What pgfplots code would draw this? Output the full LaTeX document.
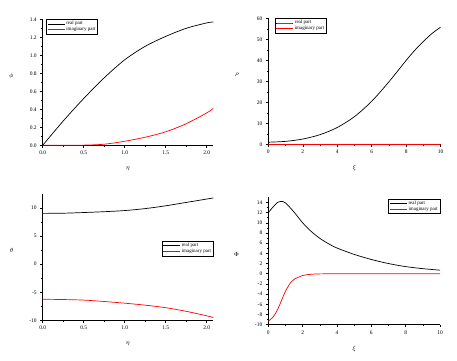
\documentclass[border=0pt]{standalone}
\usepackage{pgfplots}
\pgfplotsset{compat=1.18}
\usepackage{fontspec}
\setmainfont{Liberation Serif}
\pgfplotsset{
  myax/.style={
    scale only axis, anchor=south west,
    axis x line*=bottom, axis y line*=left,
    tick align=outside, minor tick num=1,
    axis line style={line width=0.8pt},
    every tick/.style={black, line width=0.5pt},
    major tick length=2.5pt, minor tick length=1.5pt,
    tick label style={font=\fontsize{5.5}{6}\selectfont},
    label style={font=\fontsize{6}{7}\selectfont},
    /pgf/number format/assume math mode=true,
    ylabel style={rotate=-90},
    legend style={font=\fontsize{5}{6}\selectfont, draw=black, line width=0.4pt, inner sep=1pt, row sep=-1pt,
      nodes={inner sep=1pt}},
    legend cell align=left,
    legend image post style={line width=0.9pt},
    every axis plot/.append style={line width=0.7pt, no marks, smooth},
  },
}
\begin{document}
\begin{tikzpicture}
\path (0,0) rectangle (457pt,360pt);
% Panel 1
\begin{axis}[myax, at={(42.7pt,214.7pt)}, width=170.6pt, height=126pt,
  xmin=0, xmax=2.08, ymin=0, ymax=1.4,
  xtick={0,0.5,1,1.5,2}, ytick={0,0.2,...,1.4},
  xticklabels={0.0,0.5,1.0,1.5,2.0},
  yticklabels={0.0,0.2,0.4,0.6,0.8,1.0,1.2,1.4},
  xlabel={$\eta$}, ylabel={$\phi$},
  ylabel style={at={(axis description cs:-0.15,0.55)}},
  xlabel style={at={(axis description cs:0.5,-0.14)}},
  legend style={at={(0.02,1)}, anchor=north west}]
\addplot[black] coordinates {(0,0) (0.25,0.27) (0.5,0.52) (0.75,0.75) (1.0,0.95) (1.25,1.10) (1.5,1.21) (1.75,1.30) (2.0,1.36) (2.08,1.37)};
\addlegendentry{real part}
\addplot[red] coordinates {(0,0) (0.25,0.0) (0.5,0.002) (0.75,0.012) (1.0,0.045) (1.25,0.09) (1.5,0.15) (1.75,0.24) (2.0,0.36) (2.08,0.41)};
\addlegendentry{imaginary part}
\end{axis}
% Panel 2
\begin{axis}[myax, at={(268.3pt,215.7pt)}, width=172.4pt, height=126pt,
  xmin=0, xmax=10, ymin=0, ymax=60,
  xtick={0,2,...,10}, ytick={0,10,...,60},
  xlabel={$\xi$}, ylabel={$\rho$},
  ylabel style={at={(axis description cs:-0.15,0.55)}},
  xlabel style={at={(axis description cs:0.5,-0.14)}},
  legend style={at={(0.037,1)}, anchor=north west}]
\addplot[black] coordinates {(0,1.0) (1,1.4) (2,2.5) (3,4.6) (4,8.0) (5,13.2) (6,20.5) (7,29.8) (8,40.0) (8.5,44.8) (9,49.0) (9.5,52.8) (10,55.8)};
\addlegendentry{real part}
\addplot[red] coordinates {(0,0.1) (2,0.1) (4,0.1) (6,0.1) (8,0.1) (10,0.1)};
\addlegendentry{imaginary part}
\end{axis}
% Panel 3
\begin{axis}[myax, at={(42.7pt,39.7pt)}, width=170.6pt, height=126.3pt,
  xmin=0, xmax=2.08, ymin=-10, ymax=12.5,
  xtick={0,0.5,1,1.5,2}, ytick={-10,-5,0,5,10},
  xticklabels={0.0,0.5,1.0,1.5,2.0},
  xlabel={$\eta$}, ylabel={$\theta$},
  ylabel style={at={(axis description cs:-0.15,0.55)}},
  xlabel style={at={(axis description cs:0.5,-0.14)}},
  legend style={at={(1,0.63)}, anchor=north east}]
\addplot[black] coordinates {(0,9.05) (0.25,9.08) (0.5,9.2) (0.75,9.35) (1.0,9.55) (1.25,9.9) (1.5,10.4) (1.75,11.0) (2.0,11.6) (2.08,11.8)};
\addlegendentry{real part}
\addplot[red] coordinates {(0,-6.25) (0.25,-6.3) (0.5,-6.4) (0.75,-6.65) (1.0,-6.95) (1.25,-7.3) (1.5,-7.75) (1.75,-8.4) (2.0,-9.2) (2.08,-9.5)};
\addlegendentry{imaginary part}
\end{axis}
% Panel 4
\begin{axis}[myax, at={(268.3pt,35.3pt)}, width=171.7pt, height=127.4pt,
  xmin=0, xmax=10, ymin=-10, ymax=15,
  xtick={0,2,...,10}, ytick={-10,-8,...,14},
  xlabel={$\xi$}, ylabel={$\Phi$},
  ylabel style={at={(axis description cs:-0.15,0.55)}},
  xlabel style={at={(axis description cs:0.5,-0.14)}},
  legend style={at={(1,0.99)}, anchor=north east}]
\addplot[black] coordinates {(0,12.0) (0.25,13.0) (0.5,13.9) (0.75,14.2) (1.0,13.9) (1.5,12.1) (2,10.0) (2.5,8.3) (3,6.95) (3.5,5.9) (4,5.05) (5,3.8) (6,2.8) (7,2.0) (8,1.4) (9,1.0) (10,0.7)};
\addlegendentry{real part}
\addplot[red] coordinates {(0,-9.3) (0.25,-8.6) (0.5,-7.3) (0.75,-5.4) (1.0,-3.4) (1.25,-2.0) (1.5,-1.1) (2,-0.35) (2.5,-0.1) (3,-0.03) (4,0) (6,0) (8,0) (10,0)};
\addlegendentry{imaginary part}
\end{axis}
\end{tikzpicture}
\end{document}
